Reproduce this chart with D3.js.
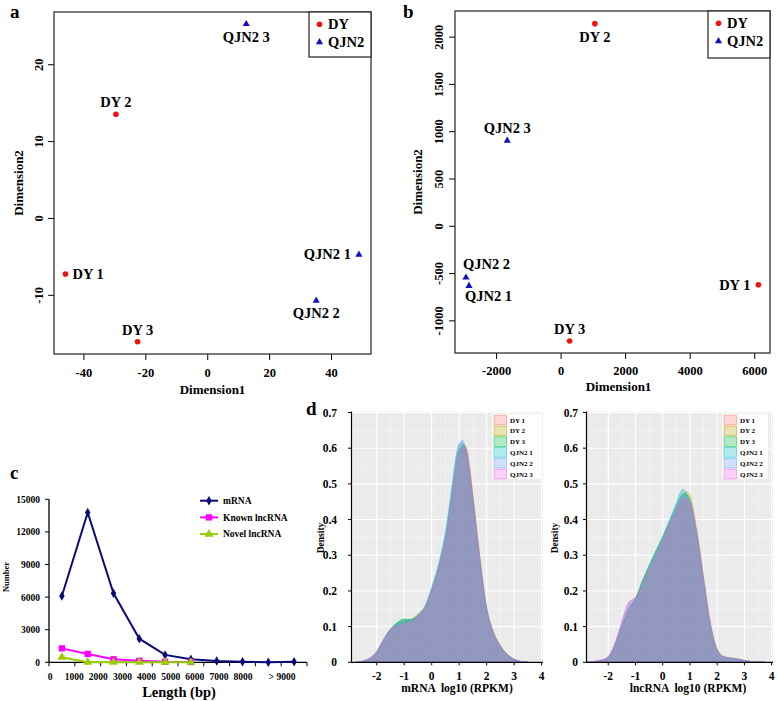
<!DOCTYPE html>
<html><head><meta charset="utf-8">
<script src="https://cdn.jsdelivr.net/npm/d3@7"></script>
<style>
body{margin:0;background:#fff}
svg{display:block}
text{font-family:"Liberation Serif","Times New Roman",serif;font-weight:bold;fill:#000}
</style>
</head><body>
<svg id="chart" width="778" height="701"></svg>
<script>
// ================= DATA =================
// Panels a / b : MDS plots
const sampleNames = ["DY 1", "DY 2", "DY 3", "QJN2 1", "QJN2 2", "QJN2 3"];
const sampleGroups = ["DY", "DY", "DY", "QJN2", "QJN2", "QJN2"];
const groupNames = ["DY", "QJN2"];

const aDim1 = [-45.8, -29.5, -22.5, 49.0, 35.2, 12.6];
const aDim2 = [-7.3, 13.5, -16.1, -4.7, -10.7, 25.3];
const aLabelSide = ["right", "above", "above", "left", "below", "below"];
const aXTicks = [-40, -20, 0, 20, 40];
const aYTicks = [-10, 0, 10, 20];

const bDim1 = [6130, 1062, 279, -2839, -2932, -1653];
const bDim2 = [-623, 2137, -1218, -630, -542, 905];
const bLabelSide = ["left", "below", "above", "belowStart", "aboveStart", "above"];
const bXTicks = [-2000, 0, 2000, 4000, 6000];
const bYTicks = [-1000, -500, 0, 500, 1000, 1500, 2000];

// Panel c : length distribution
const lengthBins = [500, 1500, 2500, 3500, 4500, 5500, 6500, 7500, 8500, 9500];
const mRNACounts = [6100, 13780, 6350, 2170, 680, 280, 120, 55, 5, 40];
const knownLncCounts = [1280, 770, 280, 140, 50, 30];
const novelLncCounts = [460, 10, 5, 5, 5, 5];
const cSeriesNames = ["mRNA", "Known lncRNA", "Novel lncRNA"];
const cXTickValues = [0, 1000, 2000, 3000, 4000, 5000, 6000, 7000, 8000, 9000];
const cXTickLabels = ["0", "1000", "2000", "3000", "4000", "5000", "6000", "7000", "8000", "> 9000"];
const cYTicks = [0, 3000, 6000, 9000, 12000, 15000];

// Panel d : density of log10(RPKM)
const densityYTicks = [0, 0.1, 0.2, 0.3, 0.4, 0.5, 0.6, 0.7];
const densityXTicks = [-2, -1, 0, 1, 2, 3, 4];

const mrnaGrid = [-2.75, -2.5, -2.25, -2, -1.75, -1.5, -1.25, -1, -0.75, -0.5, -0.25, 0, 0.25, 0.5, 0.75, 0.875, 1, 1.125, 1.25, 1.375, 1.5, 1.75, 2, 2.25, 2.5, 2.75, 3, 3.25, 3.5];
const mrnaDY1 =   [0, 0.003, 0.010, 0.028, 0.062, 0.090, 0.108, 0.116, 0.118, 0.130, 0.152, 0.200, 0.262, 0.345, 0.470, 0.540, 0.590, 0.610, 0.600, 0.540, 0.460, 0.290, 0.150, 0.082, 0.045, 0.022, 0.008, 0.002, 0];
const mrnaDY2 =   [0, 0.003, 0.010, 0.028, 0.060, 0.088, 0.106, 0.115, 0.120, 0.136, 0.156, 0.200, 0.260, 0.342, 0.465, 0.535, 0.585, 0.608, 0.605, 0.552, 0.472, 0.300, 0.156, 0.086, 0.047, 0.023, 0.009, 0.002, 0];
const mrnaDY3 =   [0, 0.003, 0.010, 0.028, 0.063, 0.093, 0.112, 0.121, 0.120, 0.131, 0.152, 0.202, 0.265, 0.350, 0.478, 0.548, 0.595, 0.605, 0.592, 0.535, 0.455, 0.288, 0.148, 0.080, 0.044, 0.021, 0.008, 0.002, 0];
const mrnaQJN21 = [0, 0.003, 0.010, 0.027, 0.062, 0.092, 0.111, 0.120, 0.119, 0.132, 0.156, 0.210, 0.275, 0.365, 0.500, 0.570, 0.610, 0.615, 0.585, 0.520, 0.440, 0.280, 0.145, 0.079, 0.043, 0.021, 0.008, 0.002, 0];
const mrnaQJN22 = [0, 0.003, 0.010, 0.028, 0.061, 0.089, 0.105, 0.112, 0.116, 0.130, 0.154, 0.205, 0.270, 0.355, 0.490, 0.565, 0.612, 0.622, 0.590, 0.525, 0.445, 0.282, 0.146, 0.080, 0.044, 0.021, 0.008, 0.002, 0];
const mrnaQJN23 = [0, 0.004, 0.013, 0.032, 0.066, 0.092, 0.100, 0.106, 0.112, 0.128, 0.150, 0.198, 0.260, 0.342, 0.468, 0.538, 0.588, 0.600, 0.595, 0.538, 0.458, 0.290, 0.150, 0.082, 0.045, 0.022, 0.008, 0.002, 0];

const lncGrid = [-2.75, -2.5, -2.25, -2, -1.75, -1.5, -1.25, -1, -0.75, -0.5, -0.25, 0, 0.25, 0.5, 0.625, 0.75, 0.875, 1, 1.25, 1.5, 1.75, 2, 2.25, 2.5, 2.75, 3, 3.25, 3.5, 3.75];
const lncDY1 =   [0, 0.002, 0.005, 0.013, 0.048, 0.100, 0.150, 0.180, 0.220, 0.262, 0.302, 0.342, 0.385, 0.425, 0.440, 0.450, 0.452, 0.445, 0.360, 0.232, 0.105, 0.035, 0.015, 0.012, 0.009, 0.005, 0.002, 0.001, 0];
const lncDY2 =   [0, 0.002, 0.005, 0.013, 0.047, 0.098, 0.148, 0.178, 0.220, 0.264, 0.305, 0.345, 0.390, 0.430, 0.452, 0.470, 0.478, 0.468, 0.372, 0.240, 0.112, 0.037, 0.016, 0.012, 0.009, 0.005, 0.002, 0.001, 0];
const lncDY3 =   [0, 0.002, 0.005, 0.013, 0.049, 0.102, 0.150, 0.178, 0.228, 0.272, 0.312, 0.352, 0.395, 0.440, 0.460, 0.472, 0.470, 0.455, 0.360, 0.228, 0.104, 0.034, 0.015, 0.012, 0.009, 0.005, 0.002, 0.001, 0];
const lncQJN21 = [0, 0.002, 0.005, 0.013, 0.048, 0.100, 0.148, 0.178, 0.226, 0.270, 0.312, 0.352, 0.398, 0.445, 0.472, 0.485, 0.472, 0.448, 0.350, 0.222, 0.100, 0.032, 0.014, 0.011, 0.008, 0.004, 0.002, 0.001, 0];
const lncQJN22 = [0, 0.002, 0.006, 0.015, 0.052, 0.112, 0.165, 0.180, 0.215, 0.260, 0.300, 0.342, 0.388, 0.432, 0.455, 0.470, 0.465, 0.448, 0.355, 0.228, 0.104, 0.034, 0.015, 0.011, 0.008, 0.004, 0.002, 0.001, 0];
const lncQJN23 = [0, 0.003, 0.007, 0.017, 0.055, 0.115, 0.168, 0.182, 0.215, 0.258, 0.298, 0.340, 0.385, 0.428, 0.448, 0.458, 0.460, 0.450, 0.362, 0.234, 0.106, 0.035, 0.015, 0.012, 0.009, 0.005, 0.002, 0.001, 0];

const densitySeriesColors = ["#F8766D", "#B79F00", "#00BA38", "#00BFC4", "#619CFF", "#F564E3"];

// ================= DRAWING =================
const svg = d3.select("#chart");
svg.append("rect").attr("width", 778).attr("height", 701).attr("fill", "#fff");

function panelLetter(txt, x, y) {
  svg.append("text").attr("x", x).attr("y", y).attr("font-size", 19).text(txt);
}

function drawMarker(g, group, cx, cy) {
  if (group === "DY") {
    g.append("circle").attr("cx", cx).attr("cy", cy).attr("r", 2.8).attr("fill", "#F01010");
  } else {
    g.append("path").attr("d", d3.symbol(d3.symbolTriangle, 22)()).attr("transform", `translate(${cx},${cy + 0.5})`).attr("fill", "#1010C0");
  }
}

function mdsPanel(cfg) {
  const g = svg.append("g");
  const x = d3.scaleLinear().domain(cfg.xDomain).range([cfg.left, cfg.right]);
  const y = d3.scaleLinear().domain(cfg.yDomain).range([cfg.bottom, cfg.top]);

  const xa = g.append("g").attr("transform", `translate(0,${cfg.bottom})`)
    .call(d3.axisBottom(x).tickValues(cfg.xTicks).tickSize(6).tickSizeOuter(0).tickFormat(d3.format("d")));
  xa.select(".domain").remove();
  xa.selectAll("line").attr("stroke", "#000");
  xa.selectAll("text").attr("y", cfg.xLabelOffset).attr("dy", null).attr("font-size", 12.5)
    .attr("font-family", "Liberation Serif").text(d => d < 0 ? "-" + Math.abs(d) : d);

  const ya = g.append("g").attr("transform", `translate(${cfg.left},0)`)
    .call(d3.axisLeft(y).tickValues(cfg.yTicks).tickSize(6).tickSizeOuter(0));
  ya.select(".domain").remove();
  ya.selectAll("line").attr("stroke", "#000");
  ya.selectAll("text").attr("x", null).attr("dy", null).attr("text-anchor", "middle")
    .attr("font-size", 12.5).attr("font-family", "Liberation Serif")
    .attr("transform", `translate(${-cfg.yLabelOffset},0) rotate(-90)`)
    .text(d => d < 0 ? "-" + Math.abs(d) : d);

  g.append("rect").attr("x", cfg.left).attr("y", cfg.top)
    .attr("width", cfg.right - cfg.left).attr("height", cfg.bottom - cfg.top)
    .attr("fill", "none").attr("stroke", "#222").attr("stroke-width", 1.2);

  g.append("text").attr("x", (cfg.left + cfg.right) / 2 + cfg.xTitleShift).attr("y", cfg.xTitleY)
    .attr("text-anchor", "middle").attr("font-size", 13).text("Dimension1");
  g.append("text").attr("transform", `translate(${cfg.yTitleX},${(cfg.top + cfg.bottom) / 2}) rotate(-90)`)
    .attr("text-anchor", "middle").attr("font-size", 13).text("Dimension2");

  sampleNames.forEach((name, i) => {
    const px = x(cfg.dim1[i]), py = y(cfg.dim2[i]);
    drawMarker(g, sampleGroups[i], px, py);
    const side = cfg.sides[i];
    const t = g.append("text").attr("font-size", 14.5).text(name);
    if (side === "above") t.attr("x", px).attr("y", py - 7).attr("text-anchor", "middle");
    else if (side === "below") t.attr("x", px).attr("y", py + 18).attr("text-anchor", "middle");
    else if (side === "left") t.attr("x", px - 8).attr("y", py + 5).attr("text-anchor", "end");
    else if (side === "right") t.attr("x", px + 7).attr("y", py + 5).attr("text-anchor", "start");
    else if (side === "aboveStart") t.attr("x", px - 3).attr("y", py - 8).attr("text-anchor", "start");
    else if (side === "belowStart") t.attr("x", px - 4).attr("y", py + 16).attr("text-anchor", "start");
  });

  // legend
  const lg = g.append("g");
  lg.append("rect").attr("x", cfg.legend.x0).attr("y", cfg.top).attr("width", cfg.right - cfg.legend.x0)
    .attr("height", cfg.legend.h).attr("fill", "#fff").attr("stroke", "#222").attr("stroke-width", 1.2);
  groupNames.forEach((gn, i) => {
    const ly = cfg.top + 12.3 + i * 17.4;
    drawMarker(lg, gn, cfg.legend.x0 + 10.5, ly);
    lg.append("text").attr("x", cfg.legend.x0 + 19).attr("y", ly + 5).attr("font-size", 14.5).text(gn);
  });
}

// Panel a
panelLetter("a", 10, 18);
mdsPanel({
  left: 54, right: 371, top: 12, bottom: 354,
  xDomain: [-49.5, 52.9], yDomain: [-17.7, 26.8],
  xTicks: aXTicks, yTicks: aYTicks, dim1: aDim1, dim2: aDim2, sides: aLabelSide,
  xLabelOffset: 23, yLabelOffset: 11.5, xTitleY: 394, xTitleShift: 0, yTitleX: 23,
  legend: { x0: 309, h: 45 }
});

// Panel b
panelLetter("b", 403, 18);
mdsPanel({
  left: 455, right: 770, top: 11, bottom: 353,
  xDomain: [-3272, 6489], yDomain: [-1345, 2271],
  xTicks: bXTicks, yTicks: bYTicks, dim1: bDim1, dim2: bDim2, sides: bLabelSide,
  xLabelOffset: 22, yLabelOffset: 12.5, xTitleY: 391, xTitleShift: 6, yTitleX: 422,
  legend: { x0: 708, h: 47 }
});

// ---------- Panel c ----------
(function () {
  panelLetter("c", 10, 479);
  const g = svg.append("g");
  const x = d3.scaleLinear().domain([0, 10000]).range([49, 307]);
  const y = d3.scaleLinear().domain([0, 15000]).range([662.3, 499.3]);
  // label positions follow the original (slightly compressed) text row
  const xLab = d3.scaleLinear().domain([0, 8000, 9000]).range([50, 243, 282]);

  g.append("line").attr("x1", 49).attr("x2", 49).attr("y1", y(15000)).attr("y2", y(0)).attr("stroke", "#000").attr("stroke-width", 1.3);
  g.append("line").attr("x1", 49).attr("x2", 307).attr("y1", y(0)).attr("y2", y(0)).attr("stroke", "#000").attr("stroke-width", 1.3);
  cYTicks.forEach(v => {
    g.append("line").attr("x1", 45).attr("x2", 49).attr("y1", y(v)).attr("y2", y(v)).attr("stroke", "#000");
    g.append("text").attr("x", 40).attr("y", y(v) + 3.5).attr("text-anchor", "end").attr("font-size", 9.5).text(v);
  });
  d3.range(0, 10001, 1000).forEach(v => {
    g.append("line").attr("x1", x(v)).attr("x2", x(v)).attr("y1", y(0)).attr("y2", y(0) + 4).attr("stroke", "#000");
  });
  cXTickValues.forEach((v, i) => {
    g.append("text").attr("x", xLab(v)).attr("y", 680).attr("text-anchor", "middle").attr("font-size", 9.5).text(cXTickLabels[i]);
  });
  g.append("text").attr("x", 179).attr("y", 697).attr("text-anchor", "middle").attr("font-size", 14.5).text("Length (bp)");
  g.append("text").attr("transform", `translate(9,577) rotate(-90)`).attr("text-anchor", "middle").attr("font-size", 8.5).text("Number");

  const series = [
    { name: cSeriesNames[0], vals: mRNACounts, color: "#0A0A78", sym: d3.symbolDiamond, size: 26 },
    { name: cSeriesNames[1], vals: knownLncCounts, color: "#FF00FF", sym: d3.symbolSquare, size: 40 },
    { name: cSeriesNames[2], vals: novelLncCounts, color: "#99CC00", sym: d3.symbolTriangle, size: 34 }
  ];
  const line = d3.line().x((d, i) => x(lengthBins[i])).y(d => y(d));
  series.forEach(s => {
    g.append("path").attr("d", line(s.vals)).attr("fill", "none").attr("stroke", s.color).attr("stroke-width", 2);
    s.vals.forEach((v, i) => {
      g.append("path").attr("d", d3.symbol(s.sym, s.size)()).attr("transform", `translate(${x(lengthBins[i])},${y(v)})`).attr("fill", s.color);
    });
  });
  series.forEach((s, i) => {
    const ly = 500.7 + i * 16.7;
    g.append("line").attr("x1", 200).attr("x2", 218).attr("y1", ly).attr("y2", ly).attr("stroke", s.color).attr("stroke-width", 2);
    g.append("path").attr("d", d3.symbol(s.sym, s.size)()).attr("transform", `translate(209,${ly})`).attr("fill", s.color);
    g.append("text").attr("x", 223).attr("y", ly + 3.3).attr("font-size", 9.5).text(s.name);
  });
})();

// ---------- Panel d ----------
panelLetter("d", 306, 415);
function densityPanel(cfg) {
  const g = svg.append("g");
  const x = d3.scaleLinear().domain(cfg.xDomain).range([cfg.left, cfg.right]);
  const y = d3.scaleLinear().domain([0, 0.7]).range([662.3, 412.5]);
  const top = 411.5, bottom = 662.3;
  g.append("rect").attr("x", cfg.left).attr("y", top).attr("width", cfg.right - cfg.left).attr("height", bottom - top).attr("fill", "#EBEBEB");
  // minor grid
  [-2.5, -1.5, -0.5, 0.5, 1.5, 2.5, 3.5].forEach(v => {
    if (x(v) > cfg.left && x(v) < cfg.right)
      g.append("line").attr("x1", x(v)).attr("x2", x(v)).attr("y1", top).attr("y2", bottom).attr("stroke", "#F6F6F6").attr("stroke-width", 0.6);
  });
  [0.05, 0.15, 0.25, 0.35, 0.45, 0.55, 0.65].forEach(v => {
    g.append("line").attr("x1", cfg.left).attr("x2", cfg.right).attr("y1", y(v)).attr("y2", y(v)).attr("stroke", "#F6F6F6").attr("stroke-width", 0.6);
  });
  // major grid
  densityXTicks.forEach(v => {
    if (x(v) > cfg.left && x(v) < cfg.right)
      g.append("line").attr("x1", x(v)).attr("x2", x(v)).attr("y1", top).attr("y2", bottom).attr("stroke", "#fff").attr("stroke-width", 1.1);
  });
  densityYTicks.forEach(v => {
    g.append("line").attr("x1", cfg.left).attr("x2", cfg.right).attr("y1", y(v)).attr("y2", y(v)).attr("stroke", "#fff").attr("stroke-width", 1.1);
  });

  const area = d3.area().x((d, i) => x(cfg.grid[i])).y0(y(0)).y1(d => y(d)).curve(d3.curveMonotoneX);
  cfg.series.forEach((s, i) => {
    g.append("path").attr("d", area(s)).attr("fill", densitySeriesColors[i]).attr("fill-opacity", 0.32)
      .attr("stroke", densitySeriesColors[i]).attr("stroke-opacity", 0.55).attr("stroke-width", 0.8);
  });

  // axes
  g.append("line").attr("x1", cfg.left - 0.5).attr("x2", cfg.left - 0.5).attr("y1", top).attr("y2", bottom).attr("stroke", "#000").attr("stroke-width", 1.2);
  g.append("line").attr("x1", cfg.left).attr("x2", cfg.right).attr("y1", bottom).attr("y2", bottom).attr("stroke", "#000").attr("stroke-width", 1.2);
  densityYTicks.forEach(v => {
    g.append("line").attr("x1", cfg.left - 4).attr("x2", cfg.left).attr("y1", y(v)).attr("y2", y(v)).attr("stroke", "#000");
    g.append("text").attr("x", cfg.yLabelRight).attr("y", y(v) + 4).attr("text-anchor", "end").attr("font-size", 11.5).text(v === 0 ? "0" : v.toFixed(1));
  });
  densityXTicks.forEach(v => {
    g.append("line").attr("x1", x(v)).attr("x2", x(v)).attr("y1", bottom).attr("y2", bottom + 3).attr("stroke", "#000");
    g.append("text").attr("x", x(v)).attr("y", 680).attr("text-anchor", "middle").attr("font-size", 11.5).text(v);
  });
  g.append("text").attr("x", cfg.titleX).attr("y", 692).attr("text-anchor", "middle").attr("font-size", 11.5)
    .attr("xml:space", "preserve").text(cfg.title);
  g.append("text").attr("transform", `translate(${cfg.densityX},538) rotate(-90)`).attr("text-anchor", "middle").attr("font-size", 9.5).text("Density");

  // legend
  const lg = g.append("g");
  lg.append("rect").attr("x", cfg.legX).attr("y", 414).attr("width", cfg.legW).attr("height", 65).attr("fill", "#fff");
  sampleNames.forEach((n, i) => {
    const ly = 420 + i * 10.8;
    lg.append("rect").attr("x", cfg.legX + 2).attr("y", ly - 4.8).attr("width", 12.5).attr("height", 9.6)
      .attr("fill", densitySeriesColors[i]).attr("fill-opacity", 0.3)
      .attr("stroke", densitySeriesColors[i]).attr("stroke-opacity", 0.6).attr("stroke-width", 0.8);
    lg.append("text").attr("x", cfg.legX + 18).attr("y", ly + 2.5).attr("font-size", 7).text(n);
  });
}

densityPanel({
  left: 352, right: 543, xDomain: [-2.9, 4.05], grid: mrnaGrid,
  series: [mrnaDY1, mrnaDY2, mrnaDY3, mrnaQJN21, mrnaQJN22, mrnaQJN23],
  yLabelRight: 337, densityX: 324, titleX: 457, title: "mRNA  log10 (RPKM)",
  legX: 492, legW: 50
});
densityPanel({
  left: 587, right: 773, xDomain: [-2.78, 4.05], grid: lncGrid,
  series: [lncDY1, lncDY2, lncDY3, lncQJN21, lncQJN22, lncQJN23],
  yLabelRight: 578, densityX: 558, titleX: 688, title: "lncRNA  log10 (RPKM)",
  legX: 722, legW: 46
});
</script>
</body></html>
